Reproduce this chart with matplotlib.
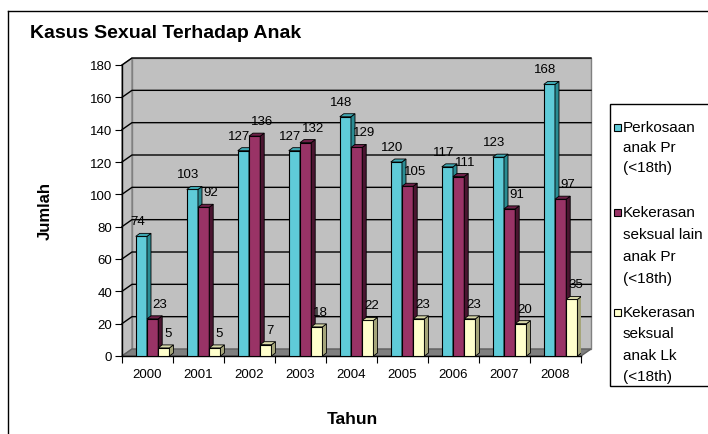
import matplotlib.pyplot as plt
from matplotlib.patches import Polygon, Rectangle
from matplotlib.lines import Line2D
from matplotlib.transforms import IdentityTransform

plt.rcParams['font.family'] = ['Liberation Sans', 'DejaVu Sans']

# data
tahun = ['2000', '2001', '2002', '2003', '2004', '2005', '2006', '2007', '2008']
perkosaan_pr = [74, 103, 127, 127, 148, 120, 117, 123, 168]
kekerasan_lain_pr = [23, 92, 136, 132, 129, 105, 111, 91, 97]
kekerasan_lk = [5, 5, 7, 18, 22, 23, 23, 20, 35]
series_names = ['Perkosaan\nanak Pr\n(<18th)',
                'Kekerasan\nseksual lain\nanak Pr\n(<18th)',
                'Kekerasan\nseksual\nanak Lk\n(<18th)']

front = ['#5fcbd8', '#993366', '#ffffcc']
side = ['#2a8c93', '#4a1530', '#a5a57a']
top = ['#3fa9b3', '#6e2048', '#d8d8a8']

W, H = 708, 435
fig = plt.figure(figsize=(W / 100, H / 100), dpi=100)
fig.patch.set_facecolor('white')

ax = fig.add_axes([122 / W, (H - 357) / H, 459 / W, (357 - 66) / H])
ax.set_xlim(0, len(tahun))
ax.set_ylim(0, 180)
ax.patch.set_visible(False)
for s in ['top', 'right']:
    ax.spines[s].set_visible(False)
ax.spines['left'].set_linewidth(1)
ax.spines['bottom'].set_linewidth(1)

ax.set_yticks(range(0, 181, 20))
ax.tick_params(axis='y', direction='out', length=5, labelsize=9.5, pad=2)
ax.set_xticks(range(0, len(tahun) + 1))
ax.set_xticklabels([])
ax.tick_params(axis='x', which='major', direction='out', length=5)
ax.set_xticks([i + 0.5 for i in range(len(tahun))], minor=True)
ax.set_xticklabels(tahun, minor=True)
ax.tick_params(axis='x', which='minor', length=0, labelsize=9.5, pad=9)

ident = IdentityTransform()
dx, dy = 10, 7
(x0, y0) = ax.transData.transform((0, 0))
(x1, y1) = ax.transData.transform((len(tahun), 180))

# walls and floor
ax.add_artist(Polygon([(x0 + dx, y0 + dy), (x1 + dx, y0 + dy), (x1 + dx, y1 + dy), (x0 + dx, y1 + dy)],
                      closed=True, transform=ident, facecolor='#c0c0c0', edgecolor='#808080',
                      lw=1, zorder=0, clip_on=False))
ax.add_artist(Polygon([(x0, y0), (x0 + dx, y0 + dy), (x0 + dx, y1 + dy), (x0, y1)],
                      closed=True, transform=ident, facecolor='#c0c0c0', edgecolor='#808080',
                      lw=1, zorder=0, clip_on=False))
ax.add_artist(Polygon([(x0, y0), (x1, y0), (x1 + dx, y0 + dy), (x0 + dx, y0 + dy)],
                      closed=True, transform=ident, facecolor='#7f7f7f', edgecolor='#606060',
                      lw=1, zorder=0.5, clip_on=False))

# gridlines on back and left wall
for v in range(20, 181, 20):
    yp = ax.transData.transform((0, v))[1]
    ax.add_artist(Line2D([x0, x0 + dx, x1 + dx], [yp, yp + dy, yp + dy], transform=ident,
                         color='black', lw=1, zorder=1, clip_on=False))

# bars
bw = 0.22
offsets = [-0.12, 0.10, 0.32]
label_dx = [-4, 7, 4]
bdx, bdy = 4, 3
values = [perkosaan_pr, kekerasan_lain_pr, kekerasan_lk]
for k, vals in enumerate(values):
    xs = [i + 0.5 + offsets[k] for i in range(len(tahun))]
    z = 3 + k
    ax.bar(xs, vals, width=bw, color=front[k], edgecolor='black', lw=0.8, zorder=z,
           label=series_names[k])
    for x, v in zip(xs, vals):
        (xl, yb) = ax.transData.transform((x - bw / 2, 0))
        (xr, yt) = ax.transData.transform((x + bw / 2, v))
        ax.add_artist(Polygon([(xr, yb), (xr, yt), (xr + bdx, yt + bdy), (xr + bdx, yb + bdy)],
                              closed=True, transform=ident, facecolor=side[k],
                              edgecolor='black', lw=0.6, zorder=z))
        ax.add_artist(Polygon([(xl, yt), (xr, yt), (xr + bdx, yt + bdy), (xl + bdx, yt + bdy)],
                              closed=True, transform=ident, facecolor=top[k],
                              edgecolor='black', lw=0.6, zorder=z))
        ax.annotate(str(v), (x, v), xytext=(label_dx[k], 15), textcoords='offset pixels',
                    ha='center', va='center', fontsize=9.5, zorder=10)

# title and axis labels
fig.text(30 / W, 1 - 33 / H, 'Kasus Sexual Terhadap Anak', fontsize=14, fontweight='bold',
         ha='left', va='center')
fig.text(45 / W, 1 - 211 / H, 'Jumlah', fontsize=12, fontweight='bold', rotation=90,
         ha='center', va='center')
fig.text(352 / W, 1 - 420 / H, 'Tahun', fontsize=12.5, fontweight='bold',
         ha='center', va='center')

# outer border
fig.add_artist(Line2D([8 / W, 8 / W], [0, 1 - 12 / H], color='black', lw=1))
fig.add_artist(Line2D([8 / W, 1], [1 - 12 / H, 1 - 12 / H], color='black', lw=1))

# legend box
fig.add_artist(Rectangle((610 / W, 1 - 387 / H), 110 / W, (387 - 105) / H,
                         facecolor='white', edgecolor='black', lw=1))
entry_lines = [[128, 148, 168], [213, 235, 257, 279], [313, 334, 356, 377]]
for k, name in enumerate(series_names):
    for line, yp in zip(name.split('\n'), entry_lines[k]):
        fig.text(623 / W, 1 - yp / H, line, fontsize=11, ha='left', va='center')
    ys = entry_lines[k][0]
    fig.add_artist(Rectangle((614 / W, 1 - (ys + 3.5) / H), 7 / W, 7 / H,
                             facecolor=front[k], edgecolor='black', lw=0.8))

fig.savefig('out.png', dpi=100)
